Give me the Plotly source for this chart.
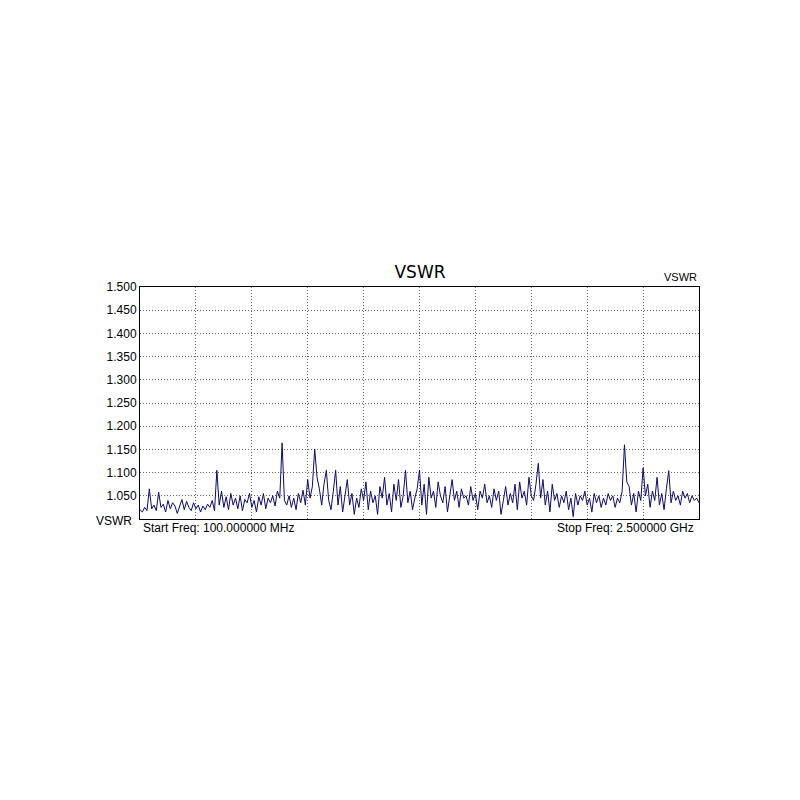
import plotly.graph_objects as go
import numpy as np

start_mhz = 100.0
stop_mhz = 2500.0
vswr = [
    1.020, 1.015, 1.025, 1.018, 1.065, 1.022, 1.030, 1.018, 1.058, 1.025,
    1.032, 1.015, 1.040, 1.022, 1.035, 1.028, 1.012, 1.030, 1.042, 1.020,
    1.038, 1.025, 1.018, 1.035, 1.022, 1.030, 1.015, 1.028, 1.020, 1.032,
    1.025, 1.040, 1.018, 1.105, 1.030, 1.060, 1.025, 1.048, 1.020, 1.055,
    1.030, 1.045, 1.022, 1.050, 1.018, 1.042, 1.035, 1.055, 1.025, 1.040,
    1.015, 1.048, 1.030, 1.055, 1.022, 1.045, 1.035, 1.050, 1.028, 1.060,
    1.045, 1.164, 1.040, 1.030, 1.050, 1.025, 1.045, 1.020, 1.055, 1.035,
    1.062, 1.030, 1.085, 1.045, 1.070, 1.151, 1.090, 1.065, 1.030, 1.075,
    1.105, 1.040, 1.020, 1.060, 1.105, 1.030, 1.070, 1.015, 1.050, 1.085,
    1.030, 1.055, 1.010, 1.045, 1.025, 1.065, 1.040, 1.080, 1.020, 1.060,
    1.035, 1.050, 1.010, 1.070, 1.045, 1.090, 1.030, 1.055, 1.015, 1.075,
    1.040, 1.085, 1.025, 1.050, 1.105, 1.035, 1.060, 1.020, 1.045, 1.065,
    1.105, 1.030, 1.075, 1.010, 1.090, 1.045, 1.060, 1.025, 1.080, 1.050,
    1.035, 1.070, 1.015, 1.055, 1.085, 1.040, 1.060, 1.025, 1.065, 1.045,
    1.050, 1.030, 1.070, 1.040, 1.055, 1.020, 1.060, 1.045, 1.075, 1.035,
    1.050, 1.025, 1.065, 1.040, 1.060, 1.010, 1.045, 1.070, 1.030, 1.055,
    1.035, 1.075, 1.020, 1.080, 1.045, 1.060, 1.030, 1.090, 1.050, 1.040,
    1.075, 1.120, 1.045, 1.085, 1.030, 1.060, 1.015, 1.075, 1.040, 1.055,
    1.025, 1.050, 1.035, 1.060, 1.020, 1.045, 1.005, 1.055, 1.030, 1.050,
    1.040, 1.060, 1.030, 1.045, 1.015, 1.055, 1.035, 1.050, 1.025, 1.045,
    1.030, 1.055, 1.040, 1.050, 1.025, 1.045, 1.035, 1.060, 1.160, 1.080,
    1.070, 1.030, 1.055, 1.015, 1.060, 1.040, 1.110, 1.050, 1.075, 1.025,
    1.060, 1.040, 1.090, 1.030, 1.055, 1.020, 1.065, 1.104, 1.035, 1.060,
    1.040, 1.050, 1.030, 1.060, 1.045, 1.055, 1.035, 1.050, 1.040, 1.045,
    1.035,
]
freq = np.linspace(start_mhz, stop_mhz, len(vswr))
y_ticks = [1.05, 1.10, 1.15, 1.20, 1.25, 1.30, 1.35, 1.40, 1.45, 1.50]
x_grid = list(np.linspace(start_mhz, stop_mhz, 11)[1:-1])

fig = go.Figure(go.Scatter(x=freq, y=vswr, mode="lines",
                           line=dict(color="#0c0c6a", width=1), hoverinfo="skip"))

fig.update_layout(
    width=800, height=800,
    paper_bgcolor="white", plot_bgcolor="white",
    margin=dict(l=132, r=109, t=279, b=289),
    showlegend=False,
    font=dict(family="Liberation Sans, Arial", color="black", size=12),
    title=dict(text="VSWR", x=0.515, xanchor="center", y=1 - 264/800, yanchor="middle",
               font=dict(size=17, family="DejaVu Sans", color="black")),
)
grid_style = dict(showgrid=True, gridcolor="#666", griddash="1px,2px", gridwidth=1,
                  showline=True, linecolor="black", linewidth=1, mirror=True,
                  zeroline=False, ticks="")
fig.update_xaxes(range=[start_mhz, stop_mhz], tickvals=x_grid, showticklabels=False,
                 **grid_style)
fig.update_yaxes(range=[1.0, 1.5], tickvals=y_ticks, tickformat=".3f",
                 tickfont=dict(size=12), **grid_style)

fig.add_annotation(text="VSWR", xref="paper", yref="paper", x=1.0, y=1.0,
                   xanchor="right", yanchor="bottom", yshift=2, showarrow=False,
                   font=dict(size=11))
fig.add_annotation(text="VSWR", xref="paper", yref="paper", x=0, y=0,
                   xanchor="right", yanchor="middle", xshift=-6, yshift=-2, showarrow=False,
                   font=dict(size=12))
fig.add_annotation(text="Start Freq: 100.000000 MHz", xref="paper", yref="paper", x=0, y=0,
                   xanchor="left", yanchor="top", xshift=1, showarrow=False,
                   font=dict(size=12))
fig.add_annotation(text="Stop Freq: 2.500000 GHz", xref="paper", yref="paper", x=1, y=0,
                   xanchor="right", yanchor="top", xshift=-3, showarrow=False,
                   font=dict(size=12))

fig.write_html("out.html")
